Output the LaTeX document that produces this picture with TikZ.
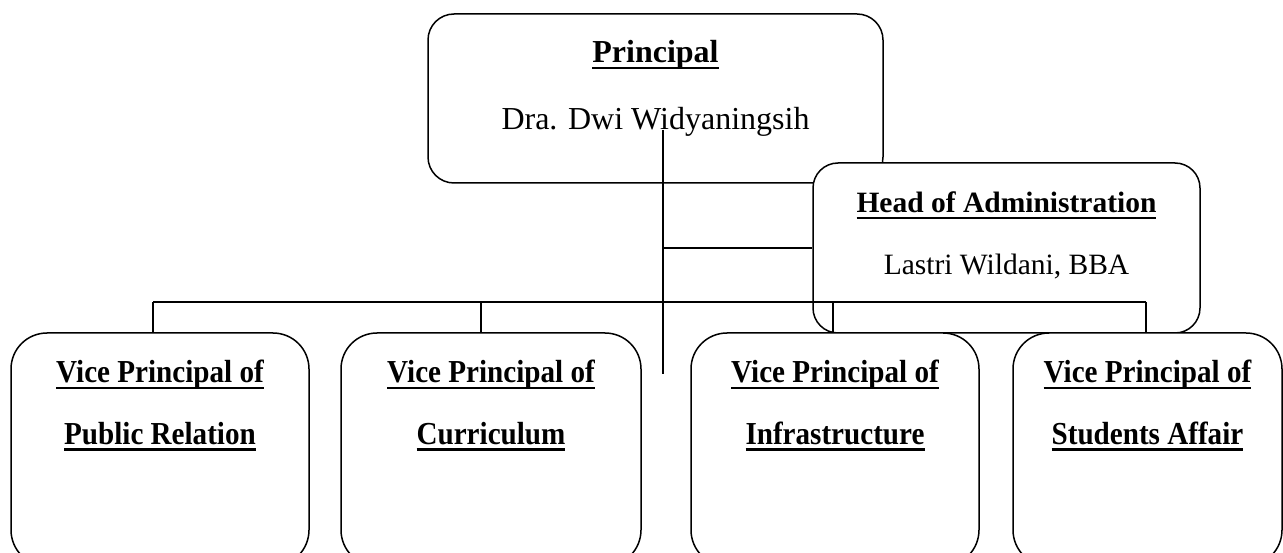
\documentclass[tikz,border=0pt]{standalone}
\usepackage{fontspec}
\setmainfont{Liberation Serif}
\newfontfamily\narrowserif{Liberation Serif}[FakeStretch=0.91]
\newlength\ulwd
\newcommand{\ultitle}[1]{\settowidth{\ulwd}{#1}\rlap{\rule[-6.5pt]{\ulwd}{2.5pt}}#1}

\begin{document}
\begin{tikzpicture}
    [x=1pt, y=-1pt, line width=1.5pt,
     topbox/.style={rectangle, draw, fill=white, rounded corners=26pt, inner sep=0pt},
     vpbox/.style={rectangle, draw, fill=white, rounded corners=36pt, minimum height=233pt, inner sep=0pt},
     ttl/.style={anchor=base, inner sep=0pt, font=\fontsize{32}{38}\selectfont\bfseries},
     nm/.style={anchor=base, inner sep=0pt, font=\fontsize{32}{38}\selectfont},
     vptxt/.style={anchor=base, inner sep=0pt, font=\fontsize{32}{38}\selectfont\narrowserif\bfseries}]

    \clip (0,0) rectangle (1283,553);

    % principal
    \node[topbox, minimum width=455pt, minimum height=169pt] (prc) at (655.5,98.5) {};
    \node[ttl] (prc-t) at (655.5,63) {\ultitle{Principal}};
    \node[nm] (prc-n) at (655.5,130) {Dra. Dwi Widyaningsih};

    % head of administration
    \node[topbox, rounded corners=25pt, minimum width=387pt, minimum height=170pt] (adm) at (1006.5,248) {};
    \node[ttl, font=\fontsize{29.5}{35}\selectfont\bfseries] (adm-t) at (1006.5,213) {\ultitle{Head of Administration}};
    \node[nm, font=\fontsize{29.5}{35}\selectfont] (adm-n) at (1006.5,275) {Lastri Wildani, BBA};

    % vice principals
    \node[vpbox, minimum width=298pt] (pub) at (160,449.5) {};
    \node[vpbox, minimum width=300pt] (cur) at (491,449.5) {};
    \node[vpbox, minimum width=288pt] (inf) at (835,449.5) {};
    \node[vpbox, minimum width=269pt] (stu) at (1147.5,449.5) {};

    \node[vptxt] (pub-1) at (160,383) {\ultitle{Vice Principal of}};
    \node[vptxt] (pub-2) at (160,444) {\ultitle{Public Relation}};
    \node[vptxt] (cur-1) at (491,383) {\ultitle{Vice Principal of}};
    \node[vptxt] (cur-2) at (491,444) {\ultitle{Curriculum}};
    \node[vptxt] (inf-1) at (835,383) {\ultitle{Vice Principal of}};
    \node[vptxt] (inf-2) at (835,444) {\ultitle{Infrastructure}};
    \node[vptxt] (stu-1) at (1147.5,383) {\ultitle{Vice Principal of}};
    \node[vptxt] (stu-2) at (1147.5,444) {\ultitle{Students Affair}};

    % connectors
    \coordinate (stem) at (663,130);
    \coordinate (stemend) at (663,374);
    \coordinate (busL) at (153,302);
    \coordinate (busC) at (481,302);
    \coordinate (busI) at (833,302);
    \coordinate (busR) at (1146,302);

    \draw (stem) -- (stemend);
    \draw (stem |- adm.west) -- (adm.west);
    \draw (busL) -- (busR);
    \draw (busL) -- (busL |- pub.north);
    \draw (busC) -- (busC |- cur.north);
    \draw (busI) -- (busI |- inf.north);
    \draw (busR) -- (busR |- stu.north);
\end{tikzpicture}
\end{document}
